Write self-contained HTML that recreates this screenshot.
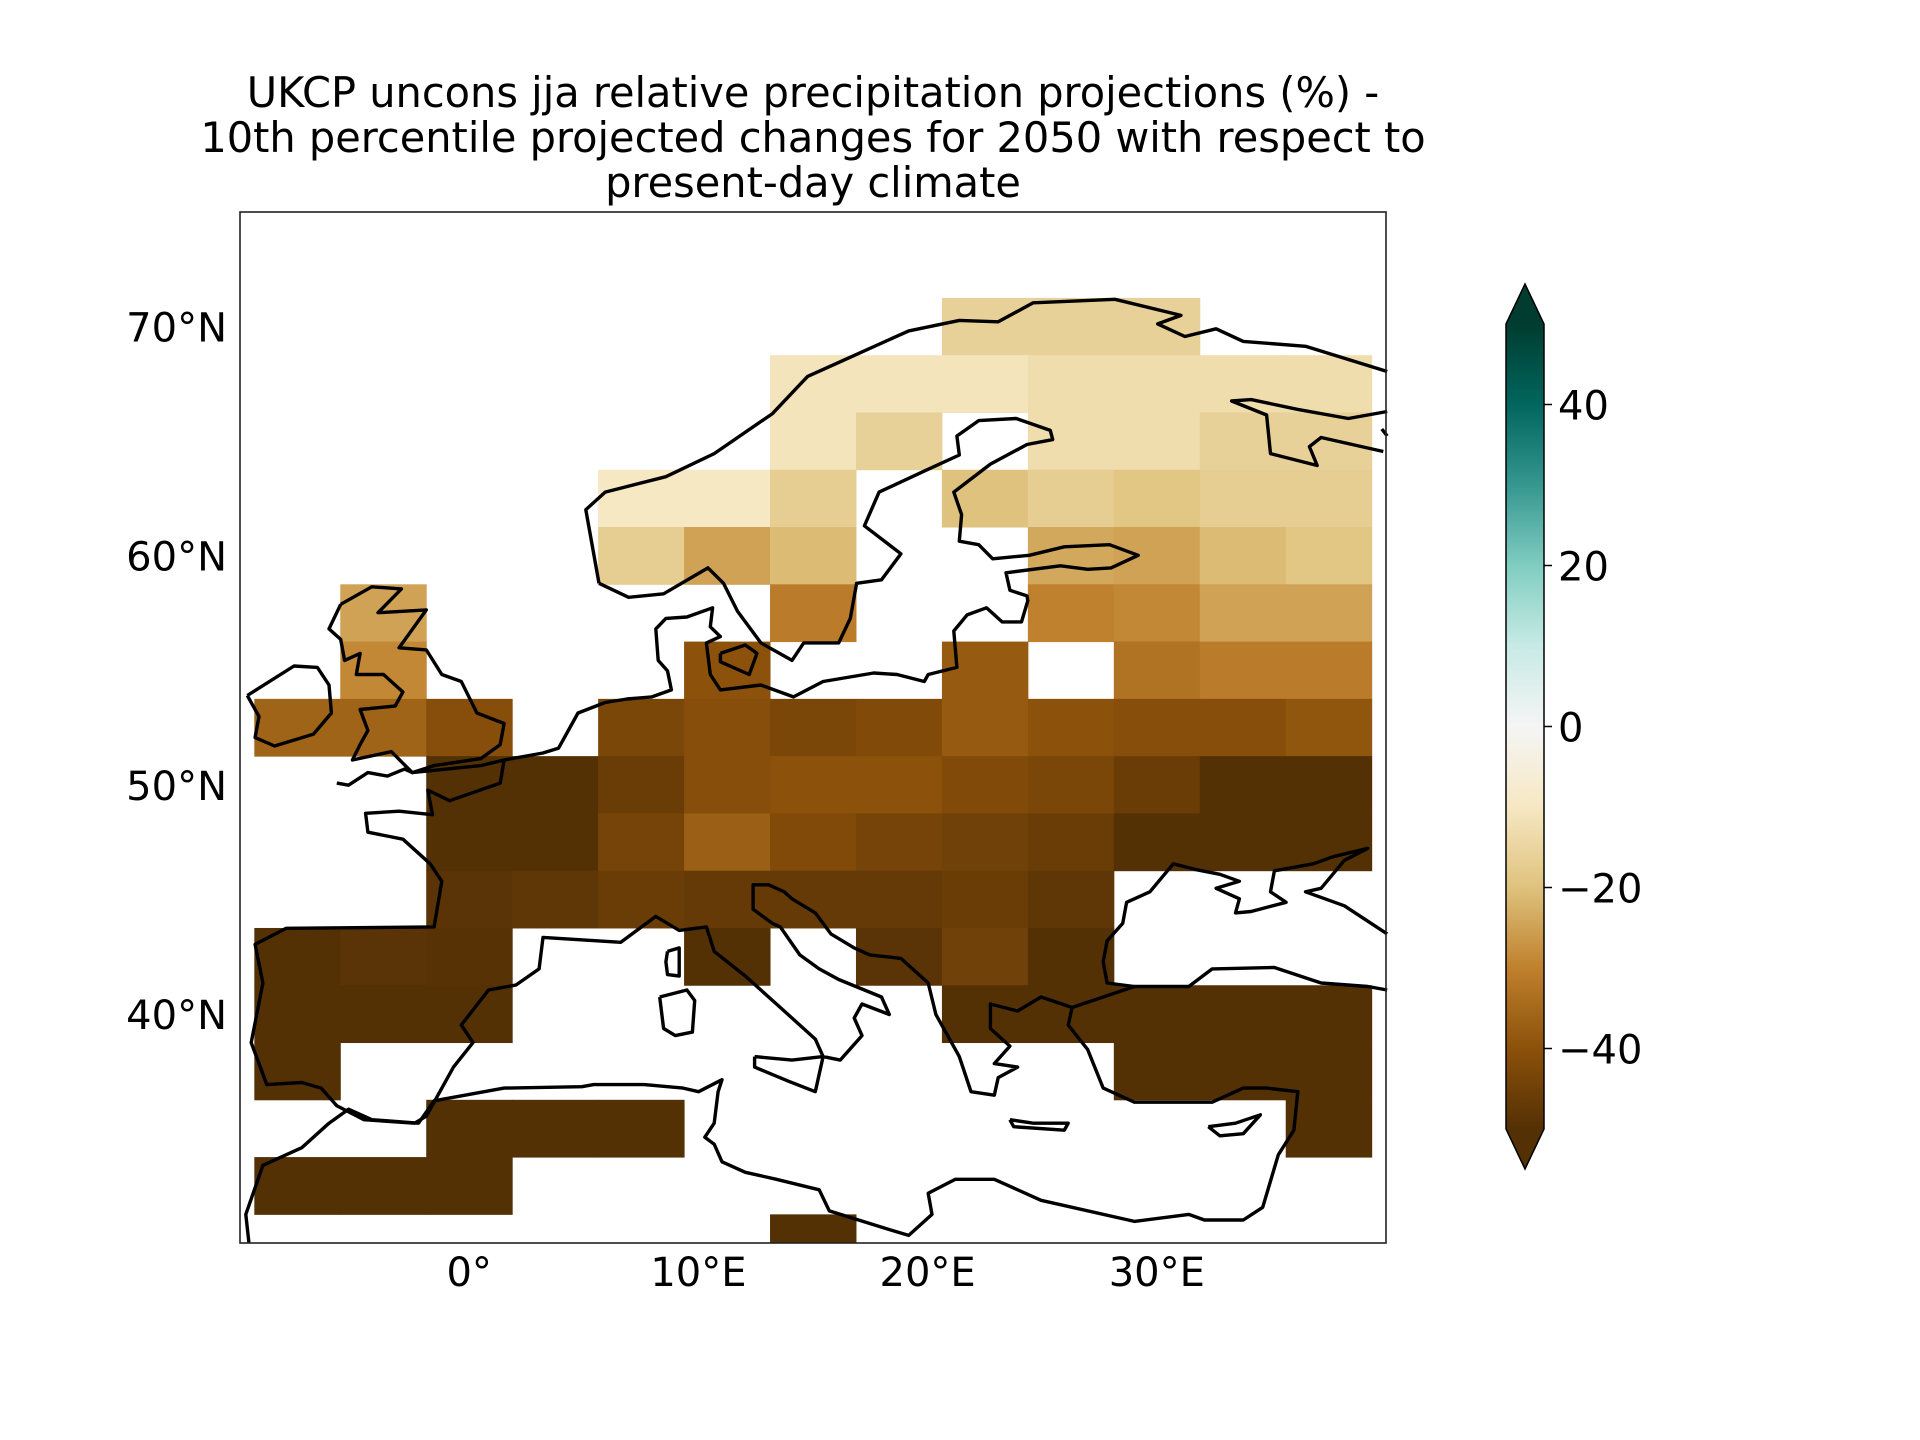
<!DOCTYPE html>
<html><head><meta charset="utf-8"><style>
html,body{margin:0;padding:0;background:#fff;}
svg{display:block;font-family:"DejaVu Sans","Liberation Sans",sans-serif;}
</style></head><body>
<svg id="chart" width="1920" height="1440" viewBox="0 0 1920 1440">
<g font-size="41.5" text-anchor="middle" fill="#000">
<text x="813" y="107">UKCP uncons jja relative precipitation projections (%) -</text>
<text x="813" y="152">10th percentile projected changes for 2050 with respect to</text>
<text x="813" y="197">present-day climate</text>
</g>
<g id="cells"></g>
<g id="coast"></g>
<rect x="240" y="212" width="1146" height="1031" fill="none" stroke="#222" stroke-width="1.6"/>
<g id="ticks" font-size="40" fill="#000"></g>
<defs><linearGradient id="brbg" x1="0" y1="1" x2="0" y2="0">
<stop offset="0" stop-color="#543005"/><stop offset="0.1" stop-color="#8c510a"/><stop offset="0.2" stop-color="#bf812d"/><stop offset="0.3" stop-color="#dfc27d"/><stop offset="0.4" stop-color="#f6e8c3"/><stop offset="0.5" stop-color="#f5f5f5"/><stop offset="0.6" stop-color="#c7eae5"/><stop offset="0.7" stop-color="#80cdc1"/><stop offset="0.8" stop-color="#35978f"/><stop offset="0.9" stop-color="#01665e"/><stop offset="1" stop-color="#003c30"/>
</linearGradient></defs>
<g id="colorbar">
<rect x="1506" y="324" width="38" height="805" fill="url(#brbg)"/>
<polygon points="1506,324 1525,284 1544,324" fill="#003c30"/>
<polygon points="1506,1129 1525,1169 1544,1129" fill="#543005"/>
<polygon points="1506,324 1525,284 1544,324 1544,1129 1525,1169 1506,1129" fill="none" stroke="#000" stroke-width="1.5"/>
</g>
</svg>
<script>
const lonEdges0 = -9.375, dLon = 3.75, latTop0 = 71.25, dLat = 2.5;
const row0 = [null,null,null,null,null,null,null,null,-16,-16,-16,null,null];
const row1 = [null,null,null,null,null,null,-11,-11,-11,-13,-13,-13,-13];
const row2 = [null,null,null,null,null,null,-11,-16,null,-13,-13,-16,-16];
const row3 = [null,null,null,null,-10,-10,-17,null,-20,-17,-19,-17,-17];
const row4 = [null,null,null,null,-17,-25,-21,null,null,-24,-25,-21,-19];
const row5 = [null,-25,null,null,null,null,-31,null,null,-30,-29,-25,-25];
const row6 = [null,-29,null,null,null,-40,null,null,-38,null,-33,-31,-31];
const row7 = [-36,-36,-41,null,-43,-41,-43,-42,-38,-40,-41,-41,-39];
const row8 = [null,null,-50,-50,-46,-41,-40,-40,-42,-43,-46,-50,-50];
const row9 = [null,null,-50,-50,-44,-37,-42,-44,-45,-46,-50,-50,-50];
const row10 = [null,null,-49,-48,-46,-47,-47,-47,-46,-48,null,null,null];
const row11 = [-50,-49,-49.5,null,null,-50,null,-49,-45,-50,null,null,null];
const row12 = [-50,-50,-50,null,null,null,null,null,-50,-50,-50,-50,-50];
const row13 = [-50,null,null,null,null,null,null,null,null,null,-50,-50,-50];
const row14 = [null,null,-50,-50,-50,null,null,null,null,null,null,null,-50];
const row15 = [-50,-50,-50,null,null,null,null,null,null,null,null,null,null];
const row16 = [null,null,null,null,null,null,-50,null,null,null,null,null,null];
const rows = [row0,row1,row2,row3,row4,row5,row6,row7,row8,row9,row10,row11,row12,row13,row14,row15,row16];
const xTicks = [0,10,20,30];
const xTickLabels = ["0°","10°E","20°E","30°E"];
const yTicks = [70,60,50,40];
const yTickLabels = ["70°N","60°N","50°N","40°N"];
const cbTicks = [40,20,0,-20,-40];
const cbTickLabels = ["40","20","0","\u221220","\u221240"];

const X0=240,X1=1386,Y0=212,Y1=1243,LON0=-10,LON1=40,LAT0=30,LAT1=75;
const xs = lon => X0+(lon-LON0)/(LON1-LON0)*(X1-X0);
const ys = lat => Y1-(lat-LAT0)/(LAT1-LAT0)*(Y1-Y0);
const cbY = v => 1129-(v+50)/100*805;
const anchors=["#543005","#8c510a","#bf812d","#dfc27d","#f6e8c3","#f5f5f5","#c7eae5","#80cdc1","#35978f","#01665e","#003c30"];
function hex(h){return [1,3,5].map(i=>parseInt(h.substr(i,2),16));}
function cmap(v){let t=Math.max(0,Math.min(1,(v+50)/100))*10;let i=Math.min(9,Math.floor(t));let f=t-i;
 const a=hex(anchors[i]),b=hex(anchors[i+1]);return "rgb("+a.map((c,k)=>Math.round(c+(b[k]-c)*f)).join(",")+")";}
const NS="http://www.w3.org/2000/svg";
const cells=document.getElementById('cells');
rows.forEach((r,ri)=>r.forEach((v,ci)=>{
 if(v===null)return;
 const lonA=lonEdges0+ci*dLon, latA=latTop0-ri*dLat;
 const x0=Math.max(X0,xs(lonA)), x1=Math.min(X1,xs(lonA+dLon));
 const y0=Math.max(Y0,ys(latA)), y1=Math.min(Y1,ys(latA-dLat));
 const el=document.createElementNS(NS,'rect');
 el.setAttribute('x',x0);el.setAttribute('y',y0);el.setAttribute('width',x1-x0+0.5);el.setAttribute('height',y1-y0+0.5);
 el.setAttribute('fill',cmap(v));
 
 
 cells.appendChild(el);
}));
const zlon = zx => -9.375+(zx-69)*48.75/1436;
const zlat = zy => 71.25-(zy-153)*40/1307;
const coastRaw = [
 [512,560,495,455,520,430,598,408,660,375,735,318,780,265,830,240,910,200,975,185,1025,187,1070,160,1175,155,1260,178,1230,190,1265,208,1305,197,1340,215,1420,222,1525,258],
 [512,560,550,580,595,575,652,538,672,560,690,600,720,645,760,670,775,645,820,645,835,610,843,560,875,555,900,518,853,478,872,430,930,400,975,377,972,350,1000,328,1048,325,1092,342,1095,355,1062,362,1015,390,968,430,978,462,975,500,1000,505,1018,525,1065,520,1110,508,1168,505,1205,520,1170,538,1140,540,1105,535,1035,545,1040,570,1062,578,1063,585,1055,615,1030,615,1010,595,985,605,968,628,972,680,935,690,930,700,895,690,865,688,800,700,762,722,720,705,668,712,655,690,650,645,668,636,655,622,658,595,625,608,598,610,585,625,588,670,600,685,605,712,580,722,548,725,520,730,485,745,460,795,440,802,390,812,385,845,320,870,292,855,298,890,255,885,212,888,215,915,260,925,295,960,310,985,300,1050,110,1052,70,1075,80,1130,65,1215,85,1275,130,1272,155,1280,175,1305,210,1325,275,1330,290,1320,325,1250,350,1215,335,1190,370,1140,405,1133,435,1110,440,1065,540,1072,585,1035,615,1055,650,1050,660,1085,700,1120,750,1170,790,1210,800,1235,822,1240,850,1205,840,1180,850,1160,885,1175,875,1150,820,1125,795,1110,770,1090,745,1050,735,1045,710,1025,710,990,730,990,750,1000,760,1010,790,1030,810,1060,840,1080,860,1090,900,1095,935,1130,945,1175,975,1235,990,1285,1020,1290,1025,1265,1050,1250,1020,1245,1040,1220,1015,1195,1015,1160,1050,1170,1080,1150,1120,1165,1200,1135,1270,1135,1300,1110,1380,1108,1440,1130,1500,1135,1525,1140],
 [1120,1165,1115,1190,1140,1225,1160,1280,1200,1300,1300,1300,1340,1280,1370,1280,1410,1285,1405,1340,1385,1375,1365,1450,1340,1468,1290,1468,1270,1460,1200,1470,1080,1440,1020,1410,970,1410,935,1430,940,1460,910,1490,880,1480,808,1455,795,1425,740,1410,700,1400,670,1385,660,1360,648,1350,660,1330,665,1285,670,1268,640,1285,620,1280,570,1275,505,1275,490,1278,390,1280,300,1298,280,1330,220,1325,190,1310,165,1330,130,1365,80,1390,58,1460,62,1500],
 [1200,1135,1165,1130,1160,1100,1165,1070,1185,1045,1190,1015,1220,1000,1250,960,1278,968,1310,975,1335,985,1305,995,1335,1010,1330,1030,1350,1028,1395,1015,1375,1000,1380,970,1430,960,1455,950,1500,938,1470,955,1440,995,1420,1000,1470,1020,1525,1060],
 [180,590,220,565,258,568,228,602,290,598,255,652,290,655,310,690,335,700,355,745,390,760,385,790,360,810,300,820,272,830,245,800,195,812,205,790,215,770,205,740,250,735,260,715,235,690,200,690,205,660,185,670,180,640,165,625,180,590],
 [60,720,75,750,70,780,95,792,145,775,168,745,165,705,150,680,120,678,60,720],
 [175,845,190,848,215,830,240,835,262,825,272,830,360,820,390,812],
 [600,1085,615,1080,615,1120,600,1118,598,1100,600,1085],
 [590,1150,625,1140,635,1155,632,1200,610,1205,595,1195,590,1150],
 [712,1235,760,1240,800,1235,790,1285,755,1270,712,1250,712,1235],
 [1040,1325,1070,1330,1115,1330,1110,1340,1045,1335,1040,1325],
 [1295,1335,1330,1330,1362,1318,1340,1345,1310,1348,1295,1335],
 [1525,315,1475,325,1410,312,1350,298,1325,300,1370,320,1375,375,1435,392,1425,365,1440,352,1520,372],
 [1518,340,1525,350],
 [668,660,700,648,715,660,705,690,668,672,668,660]
];
const coast=document.getElementById('coast');
coastRaw.forEach(a=>{
 let pts=[];for(let i=0;i<a.length;i+=2){pts.push(xs(zlon(a[i])).toFixed(1)+","+ys(zlat(a[i+1])).toFixed(1));}
 const el=document.createElementNS(NS,'polyline');
 el.setAttribute('points',pts.join(' '));el.setAttribute('fill','none');el.setAttribute('stroke','#000');
 el.setAttribute('stroke-width','3.4');el.setAttribute('stroke-linejoin','round');
 
 
 coast.appendChild(el);
});
const tk=document.getElementById('ticks');
xTicks.forEach((v,i)=>{const t=document.createElementNS(NS,'text');
 t.setAttribute('x',xs(v));t.setAttribute('y',1286);t.setAttribute('text-anchor','middle');t.textContent=xTickLabels[i];
 
 
 tk.appendChild(t);});
yTicks.forEach((v,i)=>{const t=document.createElementNS(NS,'text');
 t.setAttribute('x',227);t.setAttribute('y',ys(v)+15);t.setAttribute('text-anchor','end');t.textContent=yTickLabels[i];
 
 
 tk.appendChild(t);});
const cb=document.getElementById('colorbar');
cbTicks.forEach((v,i)=>{
 const l=document.createElementNS(NS,'line');
 l.setAttribute('x1',1544);l.setAttribute('x2',1552);l.setAttribute('y1',cbY(v));l.setAttribute('y2',cbY(v));l.setAttribute('stroke','#000');l.setAttribute('stroke-width','1.5');
 
 
 cb.appendChild(l);
 const t=document.createElementNS(NS,'text');
 t.setAttribute('x',1558);t.setAttribute('y',cbY(v)+15);t.setAttribute('font-size','40');t.textContent=cbTickLabels[i];
 
 
 cb.appendChild(t);
});
</script>
</body></html>
